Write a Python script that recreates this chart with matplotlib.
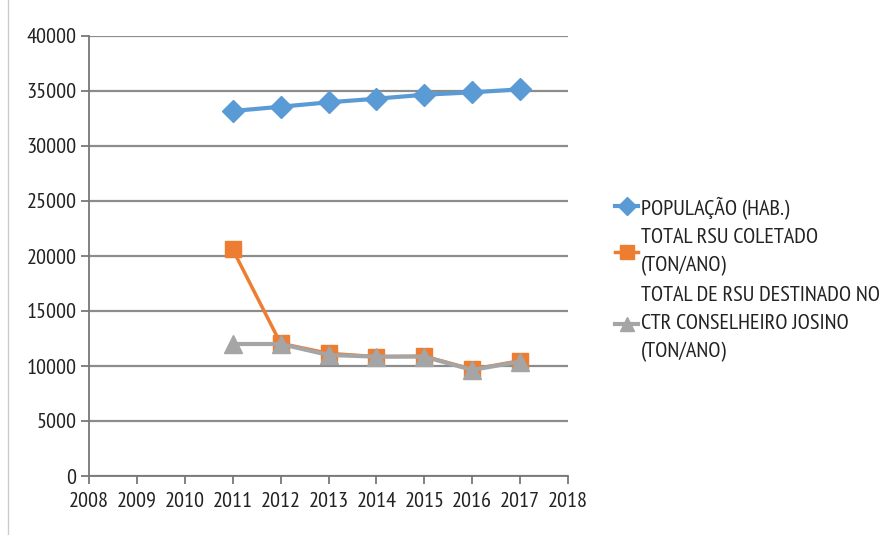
import matplotlib
matplotlib.use("Agg")
import matplotlib.pyplot as plt
from matplotlib.lines import Line2D

years = [2011, 2012, 2013, 2014, 2015, 2016, 2017]
populacao = [33180, 33570, 33970, 34300, 34660, 34880, 35150]
rsu_coletado = [20600, 12060, 11150, 10850, 10900, 9700, 10480]
rsu_destinado = [12000, 12000, 11000, 10850, 10850, 9640, 10400]
labels = ["POPULAÇÃO (HAB.)",
          "TOTAL RSU COLETADO\n(TON/ANO)",
          "TOTAL DE RSU DESTINADO NO\nCTR CONSELHEIRO JOSINO\n(TON/ANO)"]
x_ticks = list(range(2008, 2019))
y_ticks = list(range(0, 40001, 5000))

plt.rcParams['font.family'] = ['PT Sans Narrow', 'DejaVu Sans']

fig = plt.figure(figsize=(8.9, 5.35), dpi=100)
ax = fig.add_axes([89/890, 1-476/535, (568-89)/890, (476-36)/535])

grid_c = '#8c8c8c'
ax.plot(years, populacao, color='#5B9BD5', lw=3, marker='D', ms=11, label=labels[0], zorder=3)
ax.plot(years, rsu_coletado, color='#ED7D31', lw=2.5, marker='s', ms=12, label=labels[1], zorder=3)
ax.plot(years, rsu_destinado, color='#A5A5A5', lw=3, marker='^', ms=13, label=labels[2], zorder=4)

ax.set_xlim(2008, 2018)
ax.set_ylim(0, 40000)
ax.set_xticks(x_ticks)
ax.set_yticks(y_ticks)
ax.set_xticklabels([str(v) for v in x_ticks])
ax.set_yticklabels([str(v) for v in y_ticks])
ax.grid(axis='y', color=grid_c, lw=1.6)
ax.set_axisbelow(True)
for s in ['top', 'right']:
    ax.spines[s].set_visible(False)
for s in ['left', 'bottom']:
    ax.spines[s].set_color('#777777')
    ax.spines[s].set_linewidth(1.3)
ax.tick_params(axis='both', direction='out', length=6, width=1.3, color='#777777',
               labelsize=16, labelcolor='#222222')
ax.tick_params(axis='x', pad=16)
ax.tick_params(axis='y', pad=3)
for lab in ax.get_xticklabels():
    lab.set_verticalalignment('baseline')
for lab in ax.get_yticklabels():
    lab.set_verticalalignment('center_baseline')

leg = ax.legend(loc='center left', bbox_to_anchor=(604/890, 1-279/535), bbox_transform=fig.transFigure,
                frameon=False, fontsize=16, handlelength=1.05, handletextpad=0.1,
                labelspacing=0.42, markerscale=0.8, borderpad=0)
for t in leg.get_texts():
    t.set_color('#222222')
    t.set_linespacing(1.6)

fig.add_artist(Line2D([8/890, 8/890], [0, 1], color='#cccccc', lw=1, transform=fig.transFigure))

fig.savefig('out.png', dpi=100)
